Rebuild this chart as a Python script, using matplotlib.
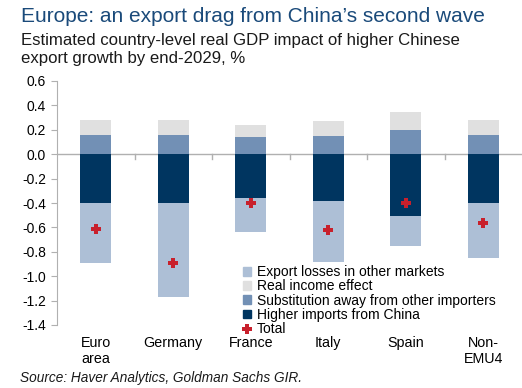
import matplotlib
matplotlib.use("Agg")
import matplotlib.pyplot as plt
import numpy as np
from matplotlib.lines import Line2D
from matplotlib.patches import Patch

plt.rcParams['font.family'] = ['Liberation Sans', 'DejaVu Sans']

categories = ["Euro\narea", "Germany", "France", "Italy", "Spain", "Non-\nEMU4"]
higher_imports = [-0.40, -0.40, -0.36, -0.38, -0.51, -0.40]
export_losses = [-0.49, -0.77, -0.28, -0.50, -0.24, -0.45]
substitution = [0.16, 0.16, 0.14, 0.15, 0.20, 0.16]
real_income = [0.12, 0.12, 0.10, 0.12, 0.15, 0.12]
total = [-0.61, -0.89, -0.40, -0.62, -0.40, -0.56]
yticks = [0.6, 0.4, 0.2, 0.0, -0.2, -0.4, -0.6, -0.8, -1.0, -1.2, -1.4]

c_export = "#adbfd6"
c_income = "#e0e0e0"
c_subst = "#7290b5"
c_imports = "#003560"
c_total = "#c8202c"

fig = plt.figure(figsize=(5.22, 3.88), dpi=100)
ax = fig.add_axes([57/522, 1-325/388, 1-57/522, (325-81)/388])

x = np.arange(len(categories))
w = 0.4
ax.bar(x, higher_imports, w, color=c_imports, zorder=2)
ax.bar(x, export_losses, w, bottom=higher_imports, color=c_export, zorder=2)
ax.bar(x, substitution, w, color=c_subst, zorder=2)
ax.bar(x, real_income, w, bottom=substitution, color=c_income, zorder=2)
ax.plot(x, total, linestyle='none', marker='P', markersize=6.5, color=c_total,
        markeredgewidth=0, zorder=3)

ax.set_xlim(-0.5, len(categories) - 0.5)
ax.set_ylim(-1.4, 0.6)
ax.set_yticks(yticks)
ax.set_yticklabels([f"{v:.1f}" for v in yticks], fontsize=10)
ax.axhline(0, color="#b0b0b0", linewidth=1, zorder=1)
# small ticks at category boundaries on the zero line
for b in np.arange(0.5, len(categories) - 0.5, 1.0):
    ax.plot([b, b], [0, -0.04], color="#b0b0b0", linewidth=1, zorder=1)

for s in ["top", "right", "bottom"]:
    ax.spines[s].set_visible(False)
ax.spines["left"].set_color("#b0b0b0")
ax.tick_params(axis='y', color="#b0b0b0", length=4, pad=4)
ax.set_xticks(x)
ax.set_xticklabels(categories, fontsize=10.3, linespacing=1.15)
ax.tick_params(axis='x', length=0, pad=8)

handles = [
    Patch(color=c_export, label="Export losses in other markets"),
    Patch(color=c_income, label="Real income effect"),
    Patch(color=c_subst, label="Substitution away from other importers"),
    Patch(color=c_imports, label="Higher imports from China"),
    Line2D([], [], linestyle='none', marker='P', markersize=6.5, color=c_total,
           markeredgewidth=0, label="Total"),
]
ax.legend(handles=handles, loc='lower left', bbox_to_anchor=((243-57)/465, -0.046),
          frameon=False, fontsize=10, handlelength=0.6, handleheight=0.6,
          handletextpad=0.4, labelspacing=0.02, borderpad=0, borderaxespad=0)

fig.text(21/522, 1-17/388, "Europe: an export drag from China\u2019s second wave",
         fontsize=15, color="#1a4a7a", va='center', ha='left')
fig.text(21/522, 1-40/388, "Estimated country-level real GDP impact of higher Chinese",
         fontsize=12.1, color="#1a1a1a", va='center', ha='left')
fig.text(21/522, 1-59/388, "export growth by end-2029, %",
         fontsize=12.1, color="#1a1a1a", va='center', ha='left')
fig.text(20/522, 1-378/388, "Source: Haver Analytics, Goldman Sachs GIR.",
         fontsize=9.8, style='italic', color="#1a1a1a", va='center', ha='left')

fig.savefig("out.png", dpi=100)
